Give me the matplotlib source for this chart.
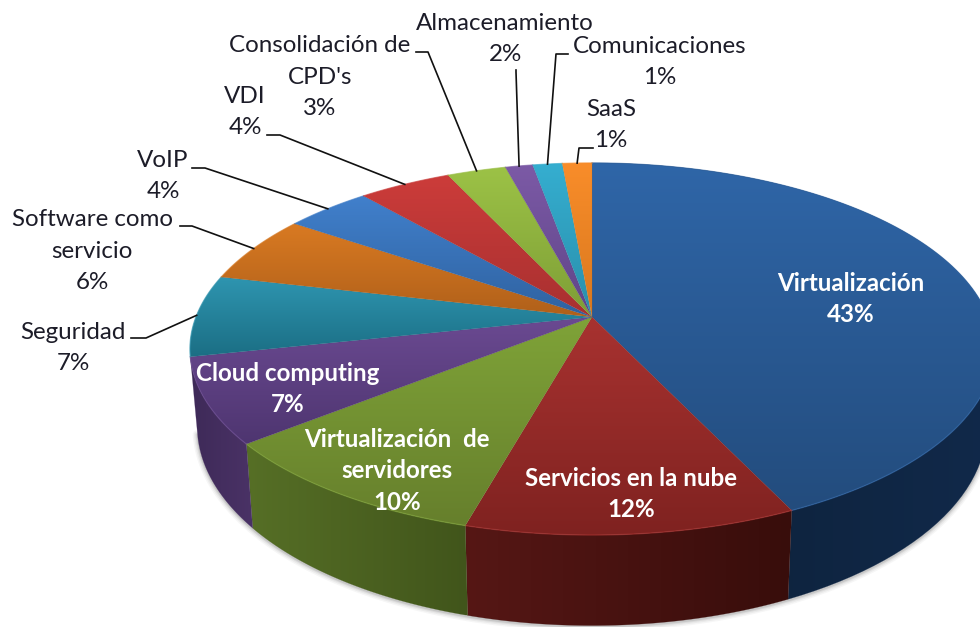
import numpy as np
import matplotlib
matplotlib.use("Agg")
import matplotlib.pyplot as plt
from matplotlib.colors import LinearSegmentedColormap
from matplotlib.patches import Polygon

categories = ["Virtualización", "Servicios en la nube", "Virtualización  de\nservidores",
              "Cloud computing", "Seguridad", "Software como\nservicio", "VoIP", "VDI",
              "Consolidación de\nCPD's", "Almacenamiento", "Comunicaciones", "SaaS"]
shares = [43.0, 11.3, 9.9, 7.4, 7.1, 5.9, 4.1, 4.4, 2.8, 1.3, 1.4, 1.4]
percent_labels = ["43%", "12%", "10%", "7%", "7%", "6%", "4%", "4%", "3%", "2%", "1%", "1%"]

top_colors = [("#2F66A8", "#234C7D"), ("#A83230", "#7F2220"), ("#7FA338", "#667F2C"),
              ("#6B4A92", "#4E3570"), ("#2E95B0", "#1B6E84"), ("#D97A22", "#B0601A"),
              ("#4180CC", "#2F62A0"), ("#CC3C3A", "#A83030"), ("#9CC246", "#7E9E36"),
              ("#7C5AA6", "#5F4488"), ("#35AED0", "#2A8FAB"), ("#F98D2A", "#D9781E")]
side_colors = [("#0C2036", "#11294A"), ("#561715", "#380D0B"), ("#566F26", "#41551B"),
               ("#3E2A58", "#4A3266")]

# label centres in image pixels, white ones sit on the pie
label_pos = [(851, 299), (631, 494), (397, 471), (288, 389), (73, 348), (92, 251),
             (163, 176), (245, 112), (320, 77), (505, 39), (660, 62), (611, 125)]
# leader start and elbow for the outside labels, the end is on the slice rim
leaders = {4: [(131, 338), (146, 338)], 5: [(180, 226), (192, 226)], 6: [(192, 168), (205, 168)],
           7: [(267, 135), (280, 135)], 8: [(416, 52), (428, 52)], 9: [(516, 70), (516, 72)],
           10: [(568, 54), (556, 54)], 11: [(593, 148), (579, 148)]}

cx, cy = 592, 317
rx, ry, persp = 396, 180.5, 0.172
depth, shrink = 75, 0.982
line_px = 31.5


def project(theta):
    # perspective view of the unit circle, theta in degrees clockwise from the top
    x = np.sin(np.radians(theta))
    y = np.cos(np.radians(theta))
    d = 1 + persp * y
    return cx + rx * x / d, cy - ry * y / d


def project_bottom(theta):
    px, py = project(theta)
    d = 1 + persp * np.cos(np.radians(theta))
    return cx + (px - cx) * shrink, py + depth / d


def gradient_fill(ax, pts, colors, horizontal=False, zorder=2):
    cmap = LinearSegmentedColormap.from_list("g", colors)
    xs, ys = pts[:, 0], pts[:, 1]
    g = np.linspace(0, 1, 256)
    g = g.reshape(1, -1) if horizontal else g.reshape(-1, 1)
    im = ax.imshow(g, cmap=cmap, aspect="auto", zorder=zorder, interpolation="bilinear",
                   extent=(xs.min(), xs.max() + 1e-3, ys.max() + 1e-3, ys.min()))
    patch = Polygon(pts, closed=True, transform=ax.transData, fc="none", ec="none")
    ax.add_patch(patch)
    im.set_clip_path(patch)
    # thin edge of the same tone so the clip does not leave a jagged rim
    ax.add_patch(Polygon(pts, closed=True, fc="none", ec=colors[1], lw=0.3, alpha=0.5, zorder=zorder))


fig = plt.figure(figsize=(9.8, 6.27), dpi=100)
ax = fig.add_axes([0, 0, 1, 1])

edges = np.concatenate([[0], np.cumsum(shares)]) / np.sum(shares) * 360

# soft shadow under the front rim
arc = np.linspace(90, 258, 200)
sx, sy = project_bottom(arc)
for lw, a in [(7, 0.05), (5, 0.07), (3, 0.10), (1.5, 0.14)]:
    ax.plot(sx, sy + 1, color="#555555", lw=lw, alpha=a, zorder=1, solid_capstyle="round")

# side walls first, only the slices before the left turning point show one
for i in range(len(side_colors)):
    t = np.linspace(edges[i], edges[i + 1], 80)
    x0, y0 = project(t)
    x1, y1 = project_bottom(t)
    pts = np.column_stack([np.r_[x0, x1[::-1]], np.r_[y0, y1[::-1]]])
    gradient_fill(ax, pts, side_colors[i], horizontal=True, zorder=2)

for i in range(len(shares)):
    t = np.linspace(edges[i], edges[i + 1], 120)
    x0, y0 = project(t)
    pts = np.column_stack([np.r_[cx, x0], np.r_[cy, y0]])
    gradient_fill(ax, pts, top_colors[i], zorder=3)
    ax.plot(x0, y0, color=top_colors[i][0], lw=1, alpha=0.6, zorder=3.5)

for i, cat in enumerate(categories):
    inside = i < 4
    lines = (cat + "\n" + percent_labels[i]).split("\n")
    for j, line in enumerate(lines):
        ax.text(label_pos[i][0], label_pos[i][1] + (j - (len(lines) - 1) / 2) * line_px, line,
                ha="center", va="center", fontsize=17.4, family="Lato",
                color="white" if inside else "#1c1c28", fontweight="bold" if inside else "normal",
                zorder=6)

for i, elbow in leaders.items():
    mid = (edges[i] + edges[i + 1]) / 2
    ex, ey = project(mid)
    ax.plot([p[0] for p in elbow] + [ex], [p[1] for p in elbow] + [ey],
            color="#111111", lw=1.2, zorder=5, solid_joinstyle="round")

ax.set_xlim(0, 980)
ax.set_ylim(627, 0)
ax.axis("off")
fig.savefig("out.png", dpi=100)
